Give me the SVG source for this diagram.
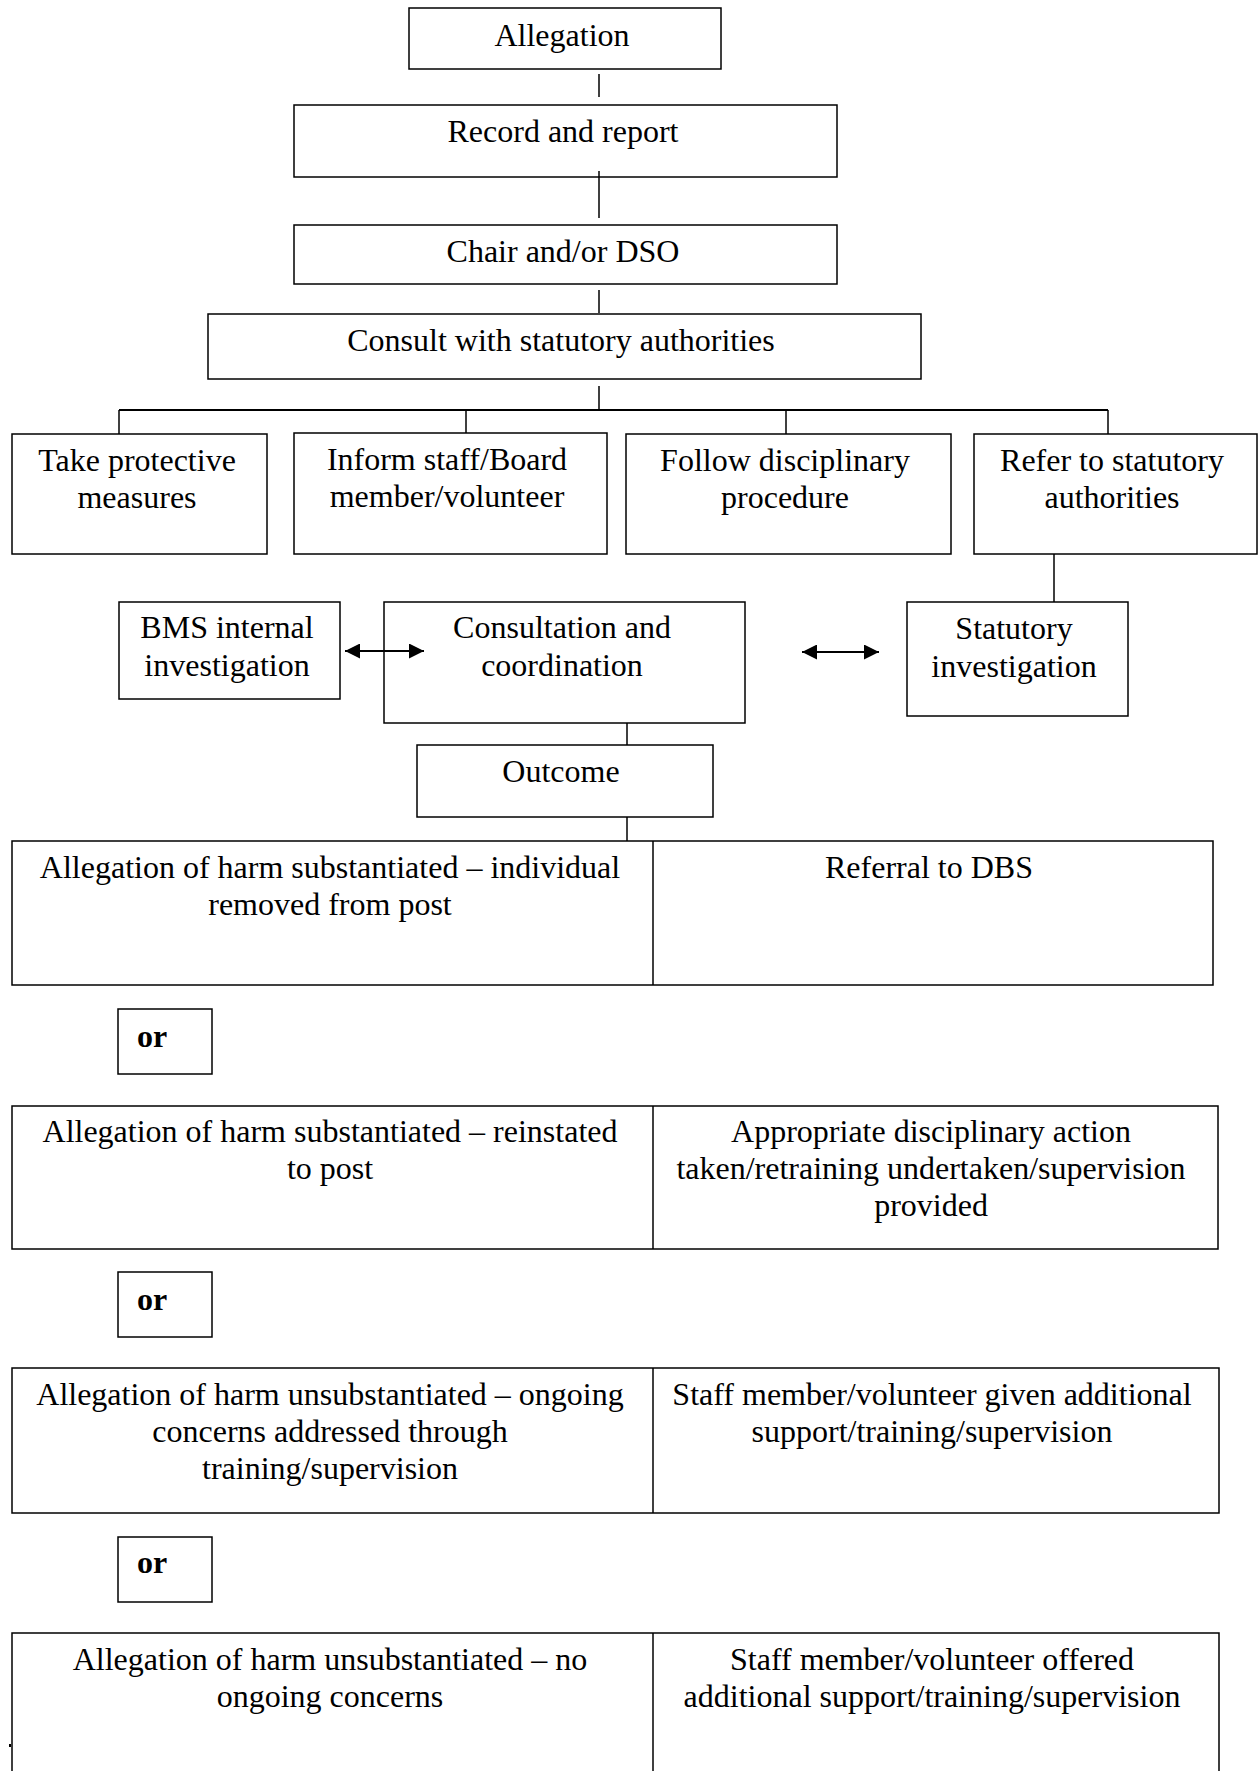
<svg xmlns="http://www.w3.org/2000/svg" width="1259" height="1771" viewBox="0 0 1259 1771">
<style>
.b{fill:#fff;stroke:#000;stroke-width:1.5}
.c{stroke:#000;stroke-width:1.5;fill:none}
text{font-family:"Liberation Serif","Times New Roman",serif;font-size:32px;fill:#000}
.m{text-anchor:middle}
.or{font-weight:bold}
</style>
<defs>
<marker id="ah" viewBox="0 0 15 15" refX="15" refY="7.5" markerWidth="15" markerHeight="15" markerUnits="userSpaceOnUse" orient="auto-start-reverse">
<path d="M0,0 L15,7.5 L0,15 z" fill="#000"/>
</marker>
</defs>
<rect width="1259" height="1771" fill="#fff"/>
<g id="allegation">
<rect class="b" x="409" y="8" width="312" height="61"/>
<text class="m" x="562" y="46">Allegation</text>
</g>
<g id="record">
<rect class="b" x="294" y="105" width="543" height="72"/>
<text class="m" x="563" y="142">Record and report</text>
</g>
<g id="chair">
<rect class="b" x="294" y="225" width="543" height="59"/>
<text class="m" x="563" y="262">Chair and/or DSO</text>
</g>
<g id="consult">
<rect class="b" x="208" y="314" width="713" height="65"/>
<text class="m" x="561" y="351">Consult with statutory authorities</text>
</g>
<g id="protective">
<rect class="b" x="12" y="434" width="255" height="120"/>
<text class="m" x="137" y="471">Take protective</text>
<text class="m" x="137" y="508">measures</text>
</g>
<g id="inform">
<rect class="b" x="294" y="433" width="313" height="121"/>
<text class="m" x="447" y="470">Inform staff/Board</text>
<text class="m" x="447" y="507">member/volunteer</text>
</g>
<g id="disciplinary">
<rect class="b" x="626" y="434" width="325" height="120"/>
<text class="m" x="785" y="471">Follow disciplinary</text>
<text class="m" x="785" y="508">procedure</text>
</g>
<g id="refer">
<rect class="b" x="974" y="434" width="283" height="120"/>
<text class="m" x="1112" y="471">Refer to statutory</text>
<text class="m" x="1112" y="508">authorities</text>
</g>
<g id="bms">
<rect class="b" x="119" y="602" width="221" height="97"/>
<text class="m" x="227" y="638">BMS internal</text>
<text class="m" x="227" y="676">investigation</text>
</g>
<g id="coordination">
<rect class="b" x="384" y="602" width="361" height="121"/>
<text class="m" x="562" y="638">Consultation and</text>
<text class="m" x="562" y="676">coordination</text>
</g>
<g id="statutory">
<rect class="b" x="907" y="602" width="221" height="114"/>
<text class="m" x="1014" y="639">Statutory</text>
<text class="m" x="1014" y="677">investigation</text>
</g>
<g id="outcome">
<rect class="b" x="417" y="745" width="296" height="72"/>
<text class="m" x="561" y="782">Outcome</text>
</g>
<g id="row1">
<rect class="b" x="12" y="841" width="1201" height="144"/>
<line class="c" x1="653" y1="841" x2="653" y2="985"/>
<text class="m" x="330" y="878">Allegation of harm substantiated – individual</text>
<text class="m" x="330" y="915">removed from post</text>
<text class="m" x="929" y="878">Referral to DBS</text>
</g>
<g id="or1">
<rect class="b" x="118" y="1009" width="94" height="65"/>
<text class="or" x="137" y="1047">or</text>
</g>
<g id="row2">
<rect class="b" x="12" y="1106" width="1206" height="143"/>
<line class="c" x1="653" y1="1106" x2="653" y2="1249"/>
<text class="m" x="330" y="1142">Allegation of harm substantiated – reinstated</text>
<text class="m" x="330" y="1179">to post</text>
<text class="m" x="931" y="1142">Appropriate disciplinary action</text>
<text class="m" x="931" y="1179">taken/retraining undertaken/supervision</text>
<text class="m" x="931" y="1216">provided</text>
</g>
<g id="or2">
<rect class="b" x="118" y="1272" width="94" height="65"/>
<text class="or" x="137" y="1310">or</text>
</g>
<g id="row3">
<rect class="b" x="12" y="1368" width="1207" height="145"/>
<line class="c" x1="653" y1="1368" x2="653" y2="1513"/>
<text class="m" x="330" y="1405">Allegation of harm unsubstantiated – ongoing</text>
<text class="m" x="330" y="1442">concerns addressed through</text>
<text class="m" x="330" y="1479">training/supervision</text>
<text class="m" x="932" y="1405">Staff member/volunteer given additional</text>
<text class="m" x="932" y="1442">support/training/supervision</text>
</g>
<g id="or3">
<rect class="b" x="118" y="1537" width="94" height="65"/>
<text class="or" x="137" y="1573">or</text>
</g>
<g id="row4">
<path class="c" d="M12,1780 V1633 H1219 V1780"/>
<line class="c" x1="653" y1="1633" x2="653" y2="1780"/>
<text class="m" x="330" y="1670">Allegation of harm unsubstantiated – no</text>
<text class="m" x="330" y="1707">ongoing concerns</text>
<text class="m" x="932" y="1670">Staff member/volunteer offered</text>
<text class="m" x="932" y="1707">additional support/training/supervision</text>
</g>
<rect x="9" y="1744" width="2" height="3" fill="#000"/>
<g id="connectors">
<line class="c" x1="599" y1="74" x2="599" y2="97"/>
<line class="c" x1="599" y1="171" x2="599" y2="218"/>
<line class="c" x1="599" y1="290" x2="599" y2="313"/>
<line class="c" x1="599" y1="386" x2="599" y2="410"/>
<line x1="119" y1="410" x2="1108" y2="410" stroke="#000" stroke-width="2"/>
<line class="c" x1="119" y1="410" x2="119" y2="434"/>
<line class="c" x1="466" y1="410" x2="466" y2="433"/>
<line class="c" x1="786" y1="410" x2="786" y2="434"/>
<line class="c" x1="1108" y1="410" x2="1108" y2="434"/>
<line class="c" x1="1054" y1="554" x2="1054" y2="602"/>
<line x1="345" y1="651" x2="424" y2="651" stroke="#000" stroke-width="2" marker-start="url(#ah)" marker-end="url(#ah)"/>
<line x1="802" y1="652" x2="879" y2="652" stroke="#000" stroke-width="2" marker-start="url(#ah)" marker-end="url(#ah)"/>
<line class="c" x1="627" y1="723" x2="627" y2="745"/>
<line class="c" x1="627" y1="817" x2="627" y2="841"/>
</g>
</svg>
